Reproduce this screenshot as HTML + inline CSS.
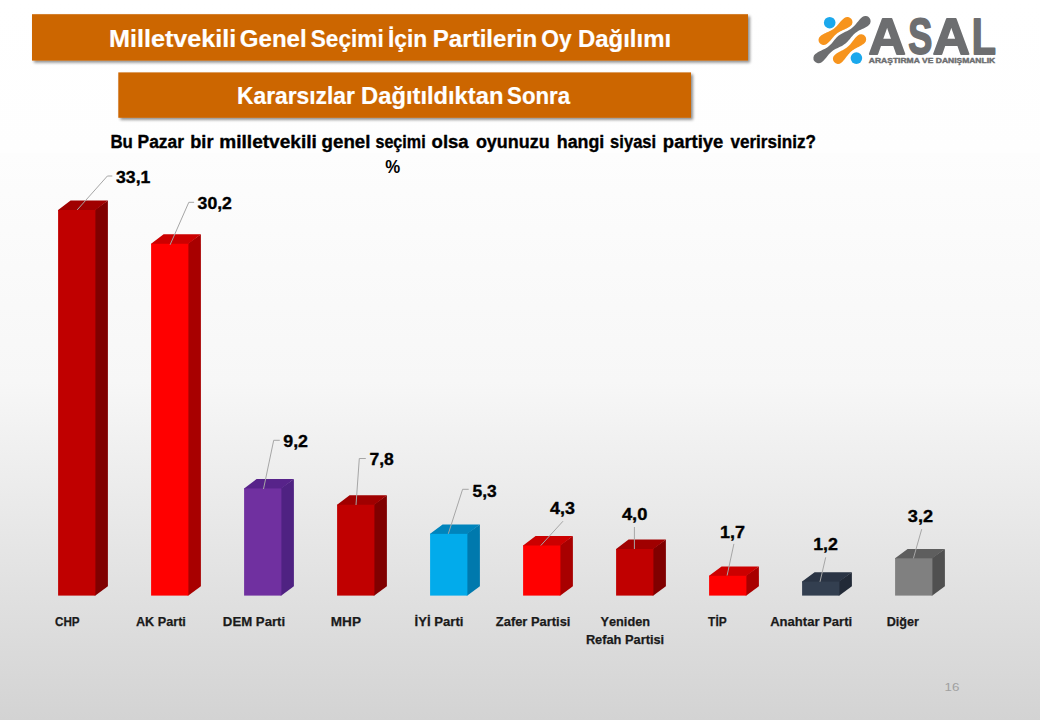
<!DOCTYPE html>
<html><head><meta charset="utf-8"><title>Chart</title>
<style>
html,body{margin:0;padding:0;width:1040px;height:720px;overflow:hidden;background:#fff;}
svg{display:block;font-family:"Liberation Sans",sans-serif;font-kerning:none;}
text{font-family:"Liberation Sans",sans-serif;}
</style></head><body>
<svg width="1040" height="720" viewBox="0 0 1040 720">
<defs><linearGradient id="bg" x1="0" y1="0" x2="0" y2="1"><stop offset="0" stop-color="#ffffff"/><stop offset="0.212" stop-color="#fefefe"/><stop offset="0.213" stop-color="#fdfdfd"/><stop offset="0.53" stop-color="#f7f7f7"/><stop offset="1" stop-color="#d3d3d3"/></linearGradient><filter id="sh" x="-5%" y="-20%" width="110%" height="150%"><feGaussianBlur in="SourceAlpha" stdDeviation="1.5"/><feOffset dx="1.5" dy="2" result="o"/><feComponentTransfer><feFuncA type="linear" slope="0.45"/></feComponentTransfer><feMerge><feMergeNode/><feMergeNode in="SourceGraphic"/></feMerge></filter></defs>
<rect x="0" y="0" width="1040" height="720" fill="url(#bg)"/>
<rect x="32" y="14.2" width="716" height="46.4" fill="#cc6600" filter="url(#sh)"/>
<rect x="118.3" y="72.4" width="572.7" height="45.4" fill="#cc6600" filter="url(#sh)"/>
<text x="108.91" y="46.70" font-size="24" font-weight="bold" fill="#ffffff" textLength="127.47" lengthAdjust="spacingAndGlyphs"  stroke="#ffffff" stroke-width="0.2" stroke-linejoin="round">Milletvekili</text>
<text x="239.81" y="46.70" font-size="24" font-weight="bold" fill="#ffffff" textLength="66.89" lengthAdjust="spacingAndGlyphs"  stroke="#ffffff" stroke-width="0.2" stroke-linejoin="round">Genel</text>
<text x="310.75" y="46.70" font-size="24" font-weight="bold" fill="#ffffff" textLength="72.95" lengthAdjust="spacingAndGlyphs"  stroke="#ffffff" stroke-width="0.2" stroke-linejoin="round">Seçimi</text>
<text x="387.98" y="46.70" font-size="24" font-weight="bold" fill="#ffffff" textLength="39.24" lengthAdjust="spacingAndGlyphs"  stroke="#ffffff" stroke-width="0.2" stroke-linejoin="round">İçin</text>
<text x="432.79" y="46.70" font-size="24" font-weight="bold" fill="#ffffff" textLength="104.51" lengthAdjust="spacingAndGlyphs"  stroke="#ffffff" stroke-width="0.2" stroke-linejoin="round">Partilerin</text>
<text x="541.37" y="46.70" font-size="24" font-weight="bold" fill="#ffffff" textLength="30.36" lengthAdjust="spacingAndGlyphs"  stroke="#ffffff" stroke-width="0.2" stroke-linejoin="round">Oy</text>
<text x="578.00" y="46.70" font-size="24" font-weight="bold" fill="#ffffff" textLength="93.07" lengthAdjust="spacingAndGlyphs"  stroke="#ffffff" stroke-width="0.2" stroke-linejoin="round">Dağılımı</text>
<text x="236.97" y="103.60" font-size="24" font-weight="bold" fill="#ffffff" textLength="117.97" lengthAdjust="spacingAndGlyphs"  stroke="#ffffff" stroke-width="0.2" stroke-linejoin="round">Kararsızlar</text>
<text x="361.11" y="103.60" font-size="24" font-weight="bold" fill="#ffffff" textLength="142.26" lengthAdjust="spacingAndGlyphs"  stroke="#ffffff" stroke-width="0.2" stroke-linejoin="round">Dağıtıldıktan</text>
<text x="507.06" y="103.60" font-size="24" font-weight="bold" fill="#ffffff" textLength="63.00" lengthAdjust="spacingAndGlyphs"  stroke="#ffffff" stroke-width="0.2" stroke-linejoin="round">Sonra</text>
<text x="110.47" y="147.70" font-size="18" font-weight="bold" fill="#000" textLength="22.44" lengthAdjust="spacingAndGlyphs"  stroke="#000" stroke-width="0.35" stroke-linejoin="round">Bu</text>
<text x="137.54" y="147.70" font-size="18" font-weight="bold" fill="#000" textLength="46.43" lengthAdjust="spacingAndGlyphs"  stroke="#000" stroke-width="0.35" stroke-linejoin="round">Pazar</text>
<text x="190.30" y="147.70" font-size="18" font-weight="bold" fill="#000" textLength="23.17" lengthAdjust="spacingAndGlyphs"  stroke="#000" stroke-width="0.35" stroke-linejoin="round">bir</text>
<text x="219.34" y="147.70" font-size="18" font-weight="bold" fill="#000" textLength="97.51" lengthAdjust="spacingAndGlyphs"  stroke="#000" stroke-width="0.35" stroke-linejoin="round">milletvekili</text>
<text x="321.63" y="147.70" font-size="18" font-weight="bold" fill="#000" textLength="48.79" lengthAdjust="spacingAndGlyphs"  stroke="#000" stroke-width="0.35" stroke-linejoin="round">genel</text>
<text x="375.43" y="147.70" font-size="18" font-weight="bold" fill="#000" textLength="50.21" lengthAdjust="spacingAndGlyphs"  stroke="#000" stroke-width="0.35" stroke-linejoin="round">seçimi</text>
<text x="431.58" y="147.70" font-size="18" font-weight="bold" fill="#000" textLength="37.11" lengthAdjust="spacingAndGlyphs"  stroke="#000" stroke-width="0.35" stroke-linejoin="round">olsa</text>
<text x="475.90" y="147.70" font-size="18" font-weight="bold" fill="#000" textLength="73.78" lengthAdjust="spacingAndGlyphs"  stroke="#000" stroke-width="0.35" stroke-linejoin="round">oyunuzu</text>
<text x="556.76" y="147.70" font-size="18" font-weight="bold" fill="#000" textLength="47.51" lengthAdjust="spacingAndGlyphs"  stroke="#000" stroke-width="0.35" stroke-linejoin="round">hangi</text>
<text x="610.12" y="147.70" font-size="18" font-weight="bold" fill="#000" textLength="46.06" lengthAdjust="spacingAndGlyphs"  stroke="#000" stroke-width="0.35" stroke-linejoin="round">siyasi</text>
<text x="662.88" y="147.70" font-size="18" font-weight="bold" fill="#000" textLength="60.45" lengthAdjust="spacingAndGlyphs"  stroke="#000" stroke-width="0.35" stroke-linejoin="round">partiye</text>
<text x="730.43" y="147.70" font-size="18" font-weight="bold" fill="#000" textLength="85.55" lengthAdjust="spacingAndGlyphs"  stroke="#000" stroke-width="0.35" stroke-linejoin="round">verirsiniz?</text>
<text x="385.28" y="173.40" font-size="19" font-weight="bold" fill="#000" textLength="14.96" lengthAdjust="spacingAndGlyphs" >%</text>
<polygon points="94.60000000000001,209.985 107.9,200.585 107.9,586.2 95.4,595.6 94.60000000000001,595.6" fill="#800000"/>
<polygon points="58.1,210.78500000000003 58.1,209.985 70.6,200.585 107.9,200.585 95.4,209.985 95.4,210.78500000000003" fill="#a00000"/>
<rect x="58.1" y="209.985" width="37.3" height="385.615" fill="#c00000"/>
<polygon points="187.59999999999997,243.77000000000004 200.89999999999998,234.37000000000003 200.89999999999998,586.2 188.39999999999998,595.6 187.59999999999997,595.6" fill="#a80000"/>
<polygon points="151.1,244.57000000000005 151.1,243.77000000000004 163.6,234.37000000000003 200.89999999999998,234.37000000000003 188.39999999999998,243.77000000000004 188.39999999999998,244.57000000000005" fill="#cc0000"/>
<rect x="151.1" y="243.77000000000004" width="37.3" height="351.83" fill="#ff0000"/>
<polygon points="280.59999999999997,488.42 293.9,479.02000000000004 293.9,586.2 281.4,595.6 280.59999999999997,595.6" fill="#4f2282"/>
<polygon points="244.1,489.22 244.1,488.42 256.6,479.02000000000004 293.9,479.02000000000004 281.4,488.42 281.4,489.22" fill="#57238a"/>
<rect x="244.1" y="488.42" width="37.3" height="107.18" fill="#7030a0"/>
<polygon points="373.6,504.73 386.90000000000003,495.33000000000004 386.90000000000003,586.2 374.40000000000003,595.6 373.6,595.6" fill="#800000"/>
<polygon points="337.1,505.53000000000003 337.1,504.73 349.6,495.33000000000004 386.90000000000003,495.33000000000004 374.40000000000003,504.73 374.40000000000003,505.53000000000003" fill="#a00000"/>
<rect x="337.1" y="504.73" width="37.3" height="90.87" fill="#c00000"/>
<polygon points="466.6,533.855 479.90000000000003,524.455 479.90000000000003,586.2 467.40000000000003,595.6 466.6,595.6" fill="#0079ad"/>
<polygon points="430.1,534.655 430.1,533.855 442.6,524.455 479.90000000000003,524.455 467.40000000000003,533.855 467.40000000000003,534.655" fill="#0084bc"/>
<rect x="430.1" y="533.855" width="37.3" height="61.745000000000005" fill="#02abeb"/>
<polygon points="559.6,545.505 572.9,536.105 572.9,586.2 560.4,595.6 559.6,595.6" fill="#a80000"/>
<polygon points="523.1,546.305 523.1,545.505 535.6,536.105 572.9,536.105 560.4,545.505 560.4,546.305" fill="#cc0000"/>
<rect x="523.1" y="545.505" width="37.3" height="50.09500000000003" fill="#ff0000"/>
<polygon points="652.6,549.0 665.9,539.6 665.9,586.2 653.4,595.6 652.6,595.6" fill="#800000"/>
<polygon points="616.1,549.8 616.1,549.0 628.6,539.6 665.9,539.6 653.4,549.0 653.4,549.8" fill="#a00000"/>
<rect x="616.1" y="549.0" width="37.3" height="46.60000000000002" fill="#c00000"/>
<polygon points="745.6,575.7950000000001 758.9,566.3950000000001 758.9,586.2 746.4,595.6 745.6,595.6" fill="#a80000"/>
<polygon points="709.1,576.595 709.1,575.7950000000001 721.6,566.3950000000001 758.9,566.3950000000001 746.4,575.7950000000001 746.4,576.595" fill="#cc0000"/>
<rect x="709.1" y="575.7950000000001" width="37.3" height="19.80499999999995" fill="#ff0000"/>
<polygon points="838.6,581.62 851.9,572.22 851.9,586.2 839.4,595.6 838.6,595.6" fill="#222a37"/>
<polygon points="802.1,582.42 802.1,581.62 814.6,572.22 851.9,572.22 839.4,581.62 839.4,582.42" fill="#2a3444"/>
<rect x="802.1" y="581.62" width="37.3" height="13.980000000000018" fill="#333f50"/>
<polygon points="931.6,558.32 944.9,548.9200000000001 944.9,586.2 932.4,595.6 931.6,595.6" fill="#505050"/>
<polygon points="895.1,559.12 895.1,558.32 907.6,548.9200000000001 944.9,548.9200000000001 932.4,558.32 932.4,559.12" fill="#5e5e5e"/>
<rect x="895.1" y="558.32" width="37.3" height="37.27999999999997" fill="#808080"/>
<polyline points="77.2,209.9 107.4,176 112.3,176" fill="none" stroke="#a6a6a6" stroke-width="1"/>
<polyline points="170.1,244.8 188.8,202.3 194.1,202.3" fill="none" stroke="#a6a6a6" stroke-width="1"/>
<polyline points="263.5,489 273.7,440.3 279.8,440.3" fill="none" stroke="#a6a6a6" stroke-width="1"/>
<polyline points="356,505 359.3,458.5 365.8,458.5" fill="none" stroke="#a6a6a6" stroke-width="1"/>
<polyline points="448.3,533.8 462.6,489.3 468.7,489.3" fill="none" stroke="#a6a6a6" stroke-width="1"/>
<polyline points="540.8,545.5 563,521.2" fill="none" stroke="#a6a6a6" stroke-width="1"/>
<polyline points="634.4,549 634.4,527" fill="none" stroke="#a6a6a6" stroke-width="1"/>
<polyline points="727.1,575.5 733.9,543.9" fill="none" stroke="#a6a6a6" stroke-width="1"/>
<polyline points="820,581.8 825.7,557.3" fill="none" stroke="#a6a6a6" stroke-width="1"/>
<polyline points="913.4,558.4 921.7,529.2" fill="none" stroke="#a6a6a6" stroke-width="1"/>
<text x="115.99" y="182.90" font-size="16.5" font-weight="bold" fill="#000" textLength="34.40" lengthAdjust="spacingAndGlyphs"  stroke="#000" stroke-width="0.35" stroke-linejoin="round">33,1</text>
<text x="197.60" y="208.75" font-size="16.5" font-weight="bold" fill="#000" textLength="34.31" lengthAdjust="spacingAndGlyphs"  stroke="#000" stroke-width="0.35" stroke-linejoin="round">30,2</text>
<text x="283.28" y="446.90" font-size="16.5" font-weight="bold" fill="#000" textLength="24.73" lengthAdjust="spacingAndGlyphs"  stroke="#000" stroke-width="0.35" stroke-linejoin="round">9,2</text>
<text x="369.55" y="464.60" font-size="16.5" font-weight="bold" fill="#000" textLength="24.29" lengthAdjust="spacingAndGlyphs"  stroke="#000" stroke-width="0.35" stroke-linejoin="round">7,8</text>
<text x="472.47" y="496.70" font-size="16.5" font-weight="bold" fill="#000" textLength="24.16" lengthAdjust="spacingAndGlyphs"  stroke="#000" stroke-width="0.35" stroke-linejoin="round">5,3</text>
<text x="550.03" y="513.90" font-size="16.5" font-weight="bold" fill="#000" textLength="24.82" lengthAdjust="spacingAndGlyphs"  stroke="#000" stroke-width="0.35" stroke-linejoin="round">4,3</text>
<text x="621.92" y="519.60" font-size="16.5" font-weight="bold" fill="#000" textLength="25.43" lengthAdjust="spacingAndGlyphs"  stroke="#000" stroke-width="0.35" stroke-linejoin="round">4,0</text>
<text x="720.07" y="537.60" font-size="16.5" font-weight="bold" fill="#000" textLength="24.92" lengthAdjust="spacingAndGlyphs"  stroke="#000" stroke-width="0.35" stroke-linejoin="round">1,7</text>
<text x="813.18" y="550.00" font-size="16.5" font-weight="bold" fill="#000" textLength="24.73" lengthAdjust="spacingAndGlyphs"  stroke="#000" stroke-width="0.35" stroke-linejoin="round">1,2</text>
<text x="907.88" y="521.70" font-size="16.5" font-weight="bold" fill="#000" textLength="25.24" lengthAdjust="spacingAndGlyphs"  stroke="#000" stroke-width="0.35" stroke-linejoin="round">3,2</text>
<text x="55.02" y="626.25" font-size="13" font-weight="bold" fill="#1a1a1a" textLength="24.63" lengthAdjust="spacingAndGlyphs"  stroke="#1a1a1a" stroke-width="0.25" stroke-linejoin="round">CHP</text>
<text x="135.93" y="626.25" font-size="13" font-weight="bold" fill="#1a1a1a" textLength="49.96" lengthAdjust="spacingAndGlyphs"  stroke="#1a1a1a" stroke-width="0.25" stroke-linejoin="round">AK Parti</text>
<text x="222.87" y="626.25" font-size="13" font-weight="bold" fill="#1a1a1a" textLength="62.32" lengthAdjust="spacingAndGlyphs"  stroke="#1a1a1a" stroke-width="0.25" stroke-linejoin="round">DEM Parti</text>
<text x="330.84" y="626.25" font-size="13" font-weight="bold" fill="#1a1a1a" textLength="30.12" lengthAdjust="spacingAndGlyphs"  stroke="#1a1a1a" stroke-width="0.25" stroke-linejoin="round">MHP</text>
<text x="414.62" y="626.25" font-size="13" font-weight="bold" fill="#1a1a1a" textLength="48.80" lengthAdjust="spacingAndGlyphs"  stroke="#1a1a1a" stroke-width="0.25" stroke-linejoin="round">İYİ Parti</text>
<text x="495.87" y="626.25" font-size="13" font-weight="bold" fill="#1a1a1a" textLength="74.55" lengthAdjust="spacingAndGlyphs"  stroke="#1a1a1a" stroke-width="0.25" stroke-linejoin="round">Zafer Partisi</text>
<text x="600.53" y="625.50" font-size="13" font-weight="bold" fill="#1a1a1a" textLength="49.51" lengthAdjust="spacingAndGlyphs"  stroke="#1a1a1a" stroke-width="0.25" stroke-linejoin="round">Yeniden</text>
<text x="585.89" y="643.75" font-size="13" font-weight="bold" fill="#1a1a1a" textLength="78.26" lengthAdjust="spacingAndGlyphs"  stroke="#1a1a1a" stroke-width="0.25" stroke-linejoin="round">Refah Partisi</text>
<text x="708.12" y="626.25" font-size="13" font-weight="bold" fill="#1a1a1a" textLength="18.54" lengthAdjust="spacingAndGlyphs"  stroke="#1a1a1a" stroke-width="0.25" stroke-linejoin="round">TİP</text>
<text x="770.17" y="626.25" font-size="13" font-weight="bold" fill="#1a1a1a" textLength="82.00" lengthAdjust="spacingAndGlyphs"  stroke="#1a1a1a" stroke-width="0.25" stroke-linejoin="round">Anahtar Parti</text>
<text x="886.66" y="626.25" font-size="13" font-weight="bold" fill="#1a1a1a" textLength="32.29" lengthAdjust="spacingAndGlyphs"  stroke="#1a1a1a" stroke-width="0.25" stroke-linejoin="round">Diğer</text>
<text x="944.48" y="691.25" font-size="11.5" font-weight="normal" fill="#a0a0a0" textLength="14.85" lengthAdjust="spacingAndGlyphs" >16</text>
<path d="M826.68,44.07 L827.26,43.61 L827.83,43.12 L828.39,42.62 L828.93,42.10 L829.46,41.56 L829.97,41.01 L830.48,40.44 L830.98,39.86 L831.47,39.28 L831.96,38.69 L832.45,38.10 L832.95,37.52 L833.45,36.94 L833.95,36.37 L834.47,35.82 L835.00,35.28 L835.54,34.76 L836.09,34.26 L836.66,33.77 L837.25,33.31 L837.85,32.87 L838.47,32.46 L839.11,32.06 L839.76,31.68 L840.42,31.32 L841.09,30.97 L841.78,30.64 L842.47,30.32 L843.16,30.00 L843.86,29.69 L844.56,29.38 L845.26,29.06 L845.95,28.74 L846.63,28.41 L847.31,28.06 L847.97,27.70 L848.62,27.32 L849.25,26.92 L849.87,26.51 L850.48,26.07 A5.10,5.10 0 0 0 844.32,17.93 L844.32,17.93 L843.74,18.39 L843.17,18.88 L842.61,19.38 L842.07,19.90 L841.54,20.44 L841.03,20.99 L840.52,21.56 L840.02,22.14 L839.53,22.72 L839.04,23.31 L838.55,23.90 L838.05,24.48 L837.55,25.06 L837.05,25.63 L836.53,26.18 L836.00,26.72 L835.46,27.24 L834.91,27.74 L834.34,28.23 L833.75,28.69 L833.15,29.13 L832.53,29.54 L831.89,29.94 L831.24,30.32 L830.58,30.68 L829.91,31.03 L829.22,31.36 L828.53,31.68 L827.84,32.00 L827.14,32.31 L826.44,32.62 L825.74,32.94 L825.05,33.26 L824.37,33.59 L823.69,33.94 L823.03,34.30 L822.38,34.68 L821.75,35.08 L821.13,35.49 L820.52,35.93 A5.10,5.10 0 0 0 826.68,44.07 Z" fill="#f7941d"/>
<path d="M841.29,62.70 L841.86,62.20 L842.41,61.68 L842.94,61.14 L843.46,60.59 L843.97,60.01 L844.46,59.43 L844.94,58.83 L845.42,58.22 L845.89,57.60 L846.36,56.98 L846.82,56.36 L847.29,55.75 L847.77,55.14 L848.25,54.54 L848.74,53.95 L849.25,53.38 L849.77,52.82 L850.30,52.28 L850.85,51.76 L851.42,51.27 L852.01,50.79 L852.61,50.33 L853.23,49.90 L853.87,49.48 L854.52,49.07 L855.18,48.69 L855.85,48.31 L856.53,47.95 L857.22,47.59 L857.91,47.23 L858.59,46.88 L859.28,46.52 L859.96,46.15 L860.63,45.78 L861.29,45.39 L861.94,44.99 L862.58,44.57 L863.20,44.13 L863.80,43.67 L864.39,43.20 A5.10,5.10 0 0 0 857.81,35.40 L857.81,35.40 L857.24,35.90 L856.69,36.42 L856.16,36.96 L855.64,37.51 L855.13,38.09 L854.64,38.67 L854.16,39.27 L853.68,39.88 L853.21,40.50 L852.74,41.12 L852.28,41.74 L851.81,42.35 L851.33,42.96 L850.85,43.56 L850.36,44.15 L849.85,44.72 L849.33,45.28 L848.80,45.82 L848.25,46.34 L847.68,46.83 L847.09,47.31 L846.49,47.77 L845.87,48.20 L845.23,48.62 L844.58,49.03 L843.92,49.41 L843.25,49.79 L842.57,50.15 L841.88,50.51 L841.19,50.87 L840.51,51.22 L839.82,51.58 L839.14,51.95 L838.47,52.32 L837.81,52.71 L837.16,53.11 L836.52,53.53 L835.90,53.97 L835.30,54.43 L834.71,54.90 A5.10,5.10 0 0 0 841.29,62.70 Z" fill="#f7941d"/>
<path d="M821.71,62.19 L822.85,61.23 L823.93,60.18 L824.96,59.07 L825.94,57.90 L826.91,56.71 L827.87,55.52 L828.86,54.36 L829.88,53.24 L830.96,52.20 L832.10,51.23 L833.31,50.35 L834.58,49.55 L835.91,48.82 L837.27,48.14 L838.66,47.49 L840.04,46.83 L841.41,46.15 L842.73,45.42 L844.00,44.62 L845.21,43.74 L846.35,42.78 L847.43,41.73 L848.46,40.62 L849.44,39.45 L850.41,38.26 L851.37,37.07 L852.36,35.91 L853.38,34.79 L854.46,33.75 L855.60,32.78 L856.81,31.90 L858.08,31.10 L859.41,30.37 L860.77,29.69 L862.16,29.04 L863.54,28.38 L864.91,27.70 L866.23,26.97 L867.50,26.17 L868.71,25.29 A5.20,5.20 0 0 0 862.29,17.11 L862.29,17.11 L861.15,18.07 L860.07,19.12 L859.04,20.23 L858.06,21.40 L857.09,22.59 L856.13,23.78 L855.14,24.94 L854.12,26.06 L853.04,27.10 L851.90,28.07 L850.69,28.95 L849.42,29.75 L848.09,30.48 L846.73,31.16 L845.34,31.81 L843.96,32.47 L842.59,33.15 L841.27,33.88 L840.00,34.68 L838.79,35.56 L837.65,36.52 L836.57,37.57 L835.54,38.68 L834.56,39.85 L833.59,41.04 L832.63,42.23 L831.64,43.39 L830.62,44.51 L829.54,45.55 L828.40,46.52 L827.19,47.40 L825.92,48.20 L824.59,48.93 L823.23,49.61 L821.84,50.26 L820.46,50.92 L819.09,51.60 L817.77,52.33 L816.50,53.13 L815.29,54.01 A5.20,5.20 0 0 0 821.71,62.19 Z" fill="#6d6e70"/>
<circle cx="829.7" cy="22.7" r="5.8" fill="#1ba8ec"/>
<circle cx="856.4" cy="58.1" r="5.8" fill="#1ba8ec"/>
<text x="868.52" y="53.50" font-size="50.4" font-weight="bold" fill="#6d6e70" textLength="37.24" lengthAdjust="spacingAndGlyphs"  stroke="#6d6e70" stroke-width="1.8" stroke-linejoin="round">A</text>
<text x="908.36" y="53.50" font-size="50.4" font-weight="bold" fill="#6d6e70" textLength="24.05" lengthAdjust="spacingAndGlyphs"  stroke="#6d6e70" stroke-width="1.8" stroke-linejoin="round">S</text>
<text x="932.82" y="53.50" font-size="50.4" font-weight="bold" fill="#6d6e70" textLength="37.14" lengthAdjust="spacingAndGlyphs"  stroke="#6d6e70" stroke-width="1.8" stroke-linejoin="round">A</text>
<text x="971.65" y="53.50" font-size="50.4" font-weight="bold" fill="#6d6e70" textLength="24.16" lengthAdjust="spacingAndGlyphs"  stroke="#6d6e70" stroke-width="1.8" stroke-linejoin="round">L</text>
<text x="868.89" y="63.20" font-size="7.0" font-weight="bold" fill="#6d6e70" textLength="126.29" lengthAdjust="spacingAndGlyphs"  stroke="#6d6e70" stroke-width="0.4" stroke-linejoin="round">ARAŞTIRMA VE DANIŞMANLIK</text>
</svg>
</body></html>
